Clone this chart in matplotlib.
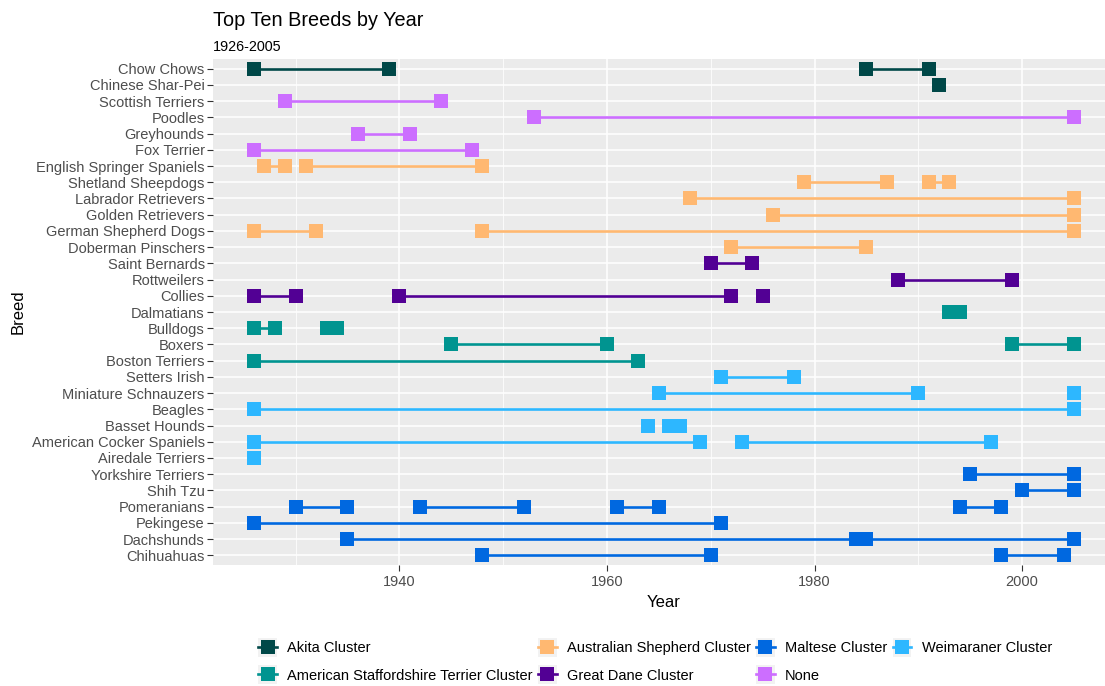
import matplotlib
matplotlib.use('Agg')
import matplotlib.pyplot as plt
from matplotlib.lines import Line2D
from matplotlib.patches import Rectangle
from matplotlib.legend_handler import HandlerLine2D

plt.rcParams['font.family'] = ['Liberation Sans', 'DejaVu Sans']

# breeds from top to bottom, with their cluster
breeds = ['Chow Chows', 'Chinese Shar-Pei', 'Scottish Terriers', 'Poodles', 'Greyhounds',
          'Fox Terrier', 'English Springer Spaniels', 'Shetland Sheepdogs', 'Labrador Retrievers',
          'Golden Retrievers', 'German Shepherd Dogs', 'Doberman Pinschers', 'Saint Bernards',
          'Rottweilers', 'Collies', 'Dalmatians', 'Bulldogs', 'Boxers', 'Boston Terriers',
          'Setters Irish', 'Miniature Schnauzers', 'Beagles', 'Basset Hounds',
          'American Cocker Spaniels', 'Airedale Terriers', 'Yorkshire Terriers', 'Shih Tzu',
          'Pomeranians', 'Pekingese', 'Dachshunds', 'Chihuahuas']
breed_cluster = ['Akita Cluster', 'Akita Cluster', 'None', 'None', 'None',
                 'None', 'Australian Shepherd Cluster', 'Australian Shepherd Cluster',
                 'Australian Shepherd Cluster', 'Australian Shepherd Cluster',
                 'Australian Shepherd Cluster', 'Australian Shepherd Cluster',
                 'Great Dane Cluster', 'Great Dane Cluster', 'Great Dane Cluster',
                 'American Staffordshire Terrier Cluster', 'American Staffordshire Terrier Cluster',
                 'American Staffordshire Terrier Cluster', 'American Staffordshire Terrier Cluster',
                 'Weimaraner Cluster', 'Weimaraner Cluster', 'Weimaraner Cluster',
                 'Weimaraner Cluster', 'Weimaraner Cluster', 'Weimaraner Cluster',
                 'Maltese Cluster', 'Maltese Cluster', 'Maltese Cluster', 'Maltese Cluster',
                 'Maltese Cluster', 'Maltese Cluster']

# runs of years in the top ten
seg_breed = ['Chow Chows', 'Chow Chows', 'Chinese Shar-Pei', 'Scottish Terriers', 'Poodles',
             'Greyhounds', 'Fox Terrier', 'English Springer Spaniels', 'English Springer Spaniels',
             'Shetland Sheepdogs', 'Shetland Sheepdogs', 'Labrador Retrievers', 'Golden Retrievers',
             'German Shepherd Dogs', 'German Shepherd Dogs', 'Doberman Pinschers', 'Saint Bernards',
             'Rottweilers', 'Collies', 'Collies', 'Collies', 'Dalmatians', 'Bulldogs', 'Bulldogs',
             'Boxers', 'Boxers', 'Boston Terriers', 'Setters Irish', 'Miniature Schnauzers',
             'Miniature Schnauzers', 'Beagles', 'Basset Hounds', 'Basset Hounds',
             'American Cocker Spaniels', 'American Cocker Spaniels', 'Airedale Terriers',
             'Yorkshire Terriers', 'Shih Tzu', 'Pomeranians', 'Pomeranians', 'Pomeranians',
             'Pomeranians', 'Pekingese', 'Dachshunds', 'Dachshunds', 'Chihuahuas', 'Chihuahuas']
seg_start = [1926, 1985, 1992, 1929, 1953,
             1936, 1926, 1927, 1931,
             1979, 1991, 1968, 1976,
             1926, 1948, 1972, 1970,
             1988, 1926, 1940, 1975, 1993, 1926, 1933,
             1945, 1999, 1926, 1971, 1965,
             2005, 1926, 1964, 1966,
             1926, 1973, 1926,
             1995, 2000, 1930, 1942, 1961,
             1994, 1926, 1935, 1985, 1948, 1998]
seg_end = [1939, 1991, 1992, 1944, 2005,
           1941, 1947, 1929, 1948,
           1987, 1993, 2005, 2005,
           1932, 2005, 1985, 1974,
           1999, 1930, 1972, 1975, 1994, 1928, 1934,
           1960, 2005, 1963, 1978, 1990,
           2005, 2005, 1964, 1967,
           1969, 1997, 1926,
           2005, 2005, 1935, 1952, 1965,
           1998, 1971, 1984, 2005, 1970, 2004]

clusters = ['Akita Cluster', 'American Staffordshire Terrier Cluster', 'Australian Shepherd Cluster',
            'Great Dane Cluster', 'Maltese Cluster', 'None', 'Weimaraner Cluster']
cluster_colors = ['#004848', '#009490', '#FFB871', '#520094', '#0068E0', '#CC6EFF', '#2DB7FF']

color_of = dict(zip(clusters, cluster_colors))
cluster_of = dict(zip(breeds, breed_cluster))
ypos = {b: len(breeds) - 1 - i for i, b in enumerate(breeds)}


# legend key with the grey ggplot-like background
class KeyHandler(HandlerLine2D):
    def create_artists(self, legend, orig_handle, xdescent, ydescent, width, height,
                       fontsize, trans):
        arts = super().create_artists(legend, orig_handle, xdescent, ydescent, width, height,
                                      fontsize, trans)
        side = width
        rect = Rectangle((-xdescent, -ydescent + height / 2 - side / 2), width, side,
                         facecolor='#F2F2F2', edgecolor='none', transform=trans)
        return [rect] + list(arts)


fig = plt.figure(figsize=(11.05, 6.86), dpi=100)
ax = fig.add_axes([213 / 1105, 1 - 565 / 686, (1115 - 213) / 1105, (565 - 59) / 686])
ax.set_facecolor('#EBEBEB')

for b, s, e in zip(seg_breed, seg_start, seg_end):
    c = color_of[cluster_of[b]]
    y = ypos[b]
    ax.plot([s, e], [y, y], color=c, linewidth=1.9, zorder=3, solid_capstyle='butt')
    ax.plot([s, e], [y, y], linestyle='none', marker='s', markersize=10,
            color=c, markeredgewidth=0, zorder=4)

ax.set_xlim(1922.05, 2008.95)
ax.set_ylim(-0.6, len(breeds) - 0.4)
ax.set_xticks([1940, 1960, 1980, 2000])
ax.set_xticks([1930, 1950, 1970, 1990], minor=True)
ax.set_yticks([ypos[b] for b in breeds])
ax.set_yticklabels(breeds)
ax.grid(True, which='major', color='white', linewidth=1.1)
ax.grid(True, which='minor', axis='x', color='white', linewidth=0.55)
ax.set_axisbelow(True)
for sp in ax.spines.values():
    sp.set_visible(False)
ax.tick_params(axis='both', which='major', colors='#333333', labelsize=10.5, length=4, width=0.8,
               labelcolor='#4D4D4D')
ax.tick_params(axis='x', which='minor', length=0)
ax.tick_params(axis='y', pad=2)

ax.set_xlabel('Year', fontsize=12, labelpad=4)
ax.set_ylabel('Breed', fontsize=12, labelpad=4)

fig.text(213 / 1105, 1 - 20 / 686, 'Top Ten Breeds by Year', fontsize=14.3, va='center', ha='left')
fig.text(213 / 1105, 1 - 47 / 686, '1926-2005', fontsize=10.4, va='center', ha='left')

handles = [Line2D([0], [0], color=color_of[c], linewidth=1.9, marker='s', markersize=10,
                  markeredgewidth=0) for c in clusters]
leg = fig.legend(handles, clusters, loc='center', bbox_to_anchor=(655 / 1105, 1 - 662 / 686),
                 ncol=4, frameon=False, fontsize=10.5, handlelength=1.3, handletextpad=0.7,
                 columnspacing=0.35, labelspacing=0.9,
                 handler_map={Line2D: KeyHandler()})

fig.savefig('out.png', dpi=100)
